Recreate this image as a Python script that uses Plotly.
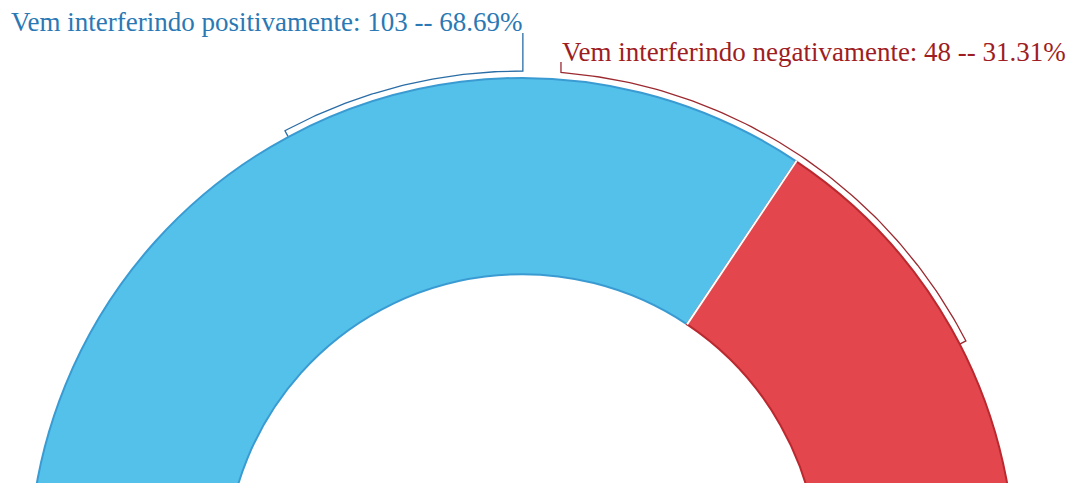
import numpy as np
import plotly.graph_objects as go

# ---- data ----
categories = ["Vem interferindo positivamente", "Vem interferindo negativamente"]
counts = [103, 48]
percent_labels = ["68.69%", "31.31%"]

# ---- style / geometry (pixels) ----
W, H = 1075, 1142
CX, CY = 522, 571          # donut centre (y from top)
R_OUT = 493
HOLE = 0.602
BOUNDARY = 33.8            # visible slice boundary (clockwise from 12 o'clock)
fill_colors = ["#54C1EA", "#E3474D"]
edge_colors = ["#3A9BD2", "#B9292F"]
text_colors = ["#2A78B4", "#9E1D23"]
bracket_colors = ["#2A6DA6", "#9B2A30"]
BR = 500                   # bracket radius
FONT = "Liberation Serif, Times New Roman, serif"

# first slice starts where the second one ends
rotation = BOUNDARY + 360.0 * counts[1] / sum(counts)


def pt(angle_deg, rad):
    a = np.radians(angle_deg)
    return CX + rad * np.sin(a), CY - rad * np.cos(a)


def arc(a0, a1, rad, n=80):
    a = np.linspace(a0, a1, n)
    x, y = pt(a, rad)
    return list(x), list(y)


fig = go.Figure()

fig.add_trace(go.Pie(
    labels=categories,
    values=counts,
    hole=HOLE,
    sort=False,
    direction="clockwise",
    rotation=rotation,
    textinfo="none",
    hoverinfo="label+value",
    marker=dict(colors=fill_colors, line=dict(color=edge_colors, width=2)),
    domain=dict(x=[(CX - R_OUT) / W, (CX + R_OUT) / W],
                y=[(H - CY - R_OUT) / H, (H - CY + R_OUT) / H]),
    showlegend=False,
))

# bracket for first category (blue)
bx, by = arc(-28.3, 0.1, BR)
tx, ty = pt(-28.3, BR - 7)
bx = [tx] + bx
by = [ty] + by
ex = bx[-1]
bx += [ex]
by += [33]
fig.add_trace(go.Scatter(x=bx, y=by, mode="lines", line=dict(color=bracket_colors[0], width=1.3),
                         hoverinfo="skip", showlegend=False))

# bracket for second category (red)
rx, ry = arc(4.47, 62.6, BR)
sx = rx[0]
rx = [sx] + rx
ry = [62] + ry
tx, ty = pt(62.6, BR - 7)
rx += [tx]
ry += [ty]
fig.add_trace(go.Scatter(x=rx, y=ry, mode="lines", line=dict(color=bracket_colors[1], width=1.3),
                         hoverinfo="skip", showlegend=False))

# labels
total_labels = [f"{c}: {v} -- {p}" for c, v, p in zip(categories, counts, percent_labels)]
fig.add_annotation(x=524, y=22, xref="x", yref="y", text=total_labels[0], showarrow=False,
                   xanchor="right", yanchor="middle",
                   font=dict(family=FONT, size=27, color=text_colors[0]))
fig.add_annotation(x=560, y=52, xref="x", yref="y", text=total_labels[1], showarrow=False,
                   xanchor="left", yanchor="middle",
                   font=dict(family=FONT, size=27, color=text_colors[1]))

# white separator between slices
x0, y0 = pt(BOUNDARY, R_OUT * HOLE)
x1, y1 = pt(BOUNDARY, R_OUT + 1)
fig.add_shape(type="line", xref="x", yref="y", x0=x0, y0=y0, x1=x1, y1=y1,
              line=dict(color="white", width=2), layer="above")

fig.update_layout(
    width=W, height=H,
    margin=dict(l=0, r=0, t=0, b=0),
    paper_bgcolor="white", plot_bgcolor="rgba(0,0,0,0)",
    xaxis=dict(range=[0, W], visible=False, fixedrange=True, domain=[0, 1]),
    yaxis=dict(range=[H, 0], visible=False, fixedrange=True, domain=[0, 1]),
    showlegend=False,
)

fig.write_html("out.html", config={"displayModeBar": False},
               post_script="document.body.style.margin='0px';document.body.style.overflow='hidden';")
